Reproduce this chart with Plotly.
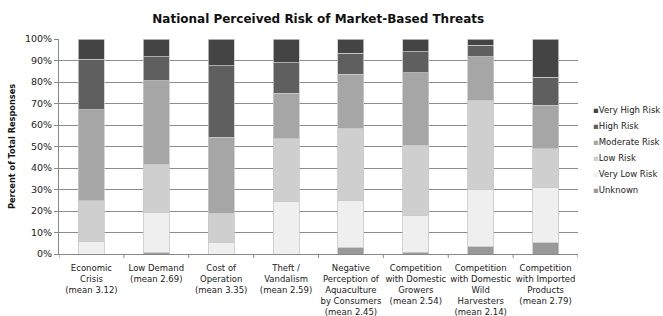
import plotly.graph_objects as go

categories = [
    "Economic<br>Crisis<br>(mean 3.12)",
    "Low Demand<br>(mean 2.69)",
    "Cost of<br>Operation<br>(mean 3.35)",
    "Theft /<br>Vandalism<br>(mean 2.59)",
    "Negative<br>Perception of<br>Aquaculture<br>by Consumers<br>(mean 2.45)",
    "Competition<br>with Domestic<br>Growers<br>(mean 2.54)",
    "Competition<br>with Domestic<br>Wild<br>Harvesters<br>(mean 2.14)",
    "Competition<br>with Imported<br>Products<br>(mean 2.79)",
]

unknown = [0.0, 0.6, 0.0, 0.0, 2.9, 0.8, 3.4, 5.3]
very_low = [6.0, 18.6, 5.4, 24.2, 22.2, 17.3, 26.8, 25.6]
low = [18.7, 22.5, 13.5, 29.3, 33.3, 32.6, 41.4, 18.1]
moderate = [42.3, 38.8, 35.4, 21.2, 25.2, 33.6, 20.2, 20.1]
high = [23.5, 11.3, 33.3, 14.3, 9.7, 9.8, 5.4, 13.1]
very_high = [9.5, 8.2, 12.4, 11.0, 6.7, 5.9, 2.8, 17.8]

series = [
    ("Unknown", unknown, "#999999"),
    ("Very Low Risk", very_low, "#efefef"),
    ("Low Risk", low, "#cfcfcf"),
    ("Moderate Risk", moderate, "#a6a6a6"),
    ("High Risk", high, "#5f5f5f"),
    ("Very High Risk", very_high, "#444444"),
]

x_idx = list(range(len(categories)))

fig = go.Figure()
for name, vals, color in series:
    fig.add_trace(go.Bar(
        x=x_idx, y=[v / 100 for v in vals], name=name,
        marker=dict(color=color, line=dict(color="#c8c8c8", width=0.8)),
        showlegend=False,
    ))

fig.update_layout(
    barmode="stack",
    bargap=0.6,
    width=663, height=316,
    margin=dict(l=59, r=85, t=39, b=62, autoexpand=False),
    paper_bgcolor="white", plot_bgcolor="white",
    font=dict(family="DejaVu Sans", color="#222222"),
    title=dict(text="<b>National Perceived Risk of Market-Based Threats</b>",
               x=0.48, xanchor="center", y=0.94, yanchor="middle",
               font=dict(size=12, color="#111111")),
    showlegend=False,
)
fig.update_xaxes(
    tickmode="array", tickvals=x_idx, ticktext=categories,
    range=[-0.5, len(categories) - 0.5],
    tickfont=dict(size=8.5, color="#222222"),
    showline=True, linecolor="#888888", linewidth=1,
    ticks="", showgrid=False, ticklabelstandoff=6,
)
fig.update_yaxes(
    range=[0, 1], tickformat=".0%", dtick=0.1,
    tickfont=dict(size=9.5, color="#222222"),
    showgrid=True, gridcolor="#8c8c8c", gridwidth=1,
    showline=True, linecolor="#888888", linewidth=1,
    ticks="outside", ticklen=4, tickcolor="#888888",
    title=dict(text="<b>Percent of Total Responses</b>", font=dict(size=8.2, color="#111111"), standoff=8),
)
# category boundary tick marks on x axis
for i in range(len(categories) + 1):
    fig.add_shape(type="line", xref="x", yref="paper",
                  x0=i - 0.5, x1=i - 0.5, y0=0, y1=-0.018,
                  line=dict(color="#888888", width=1))

# legend (top-down: reverse of stacking order)
plot_h = 316 - 39 - 62
for k, (name, vals, color) in enumerate(reversed(series)):
    ypix = 110 + 16 * k
    fig.add_annotation(
        xref="paper", yref="paper", x=1.025, y=(316 - 62 - ypix) / plot_h,
        xanchor="left", yanchor="middle", showarrow=False,
        text=f"<span style='color:{color}'>▪</span>{name}",
        font=dict(size=8.5, color="#222222"),
    )

fig.write_html("out.html", config={"displayModeBar": False},
               post_script="document.body.style.margin='0';")
